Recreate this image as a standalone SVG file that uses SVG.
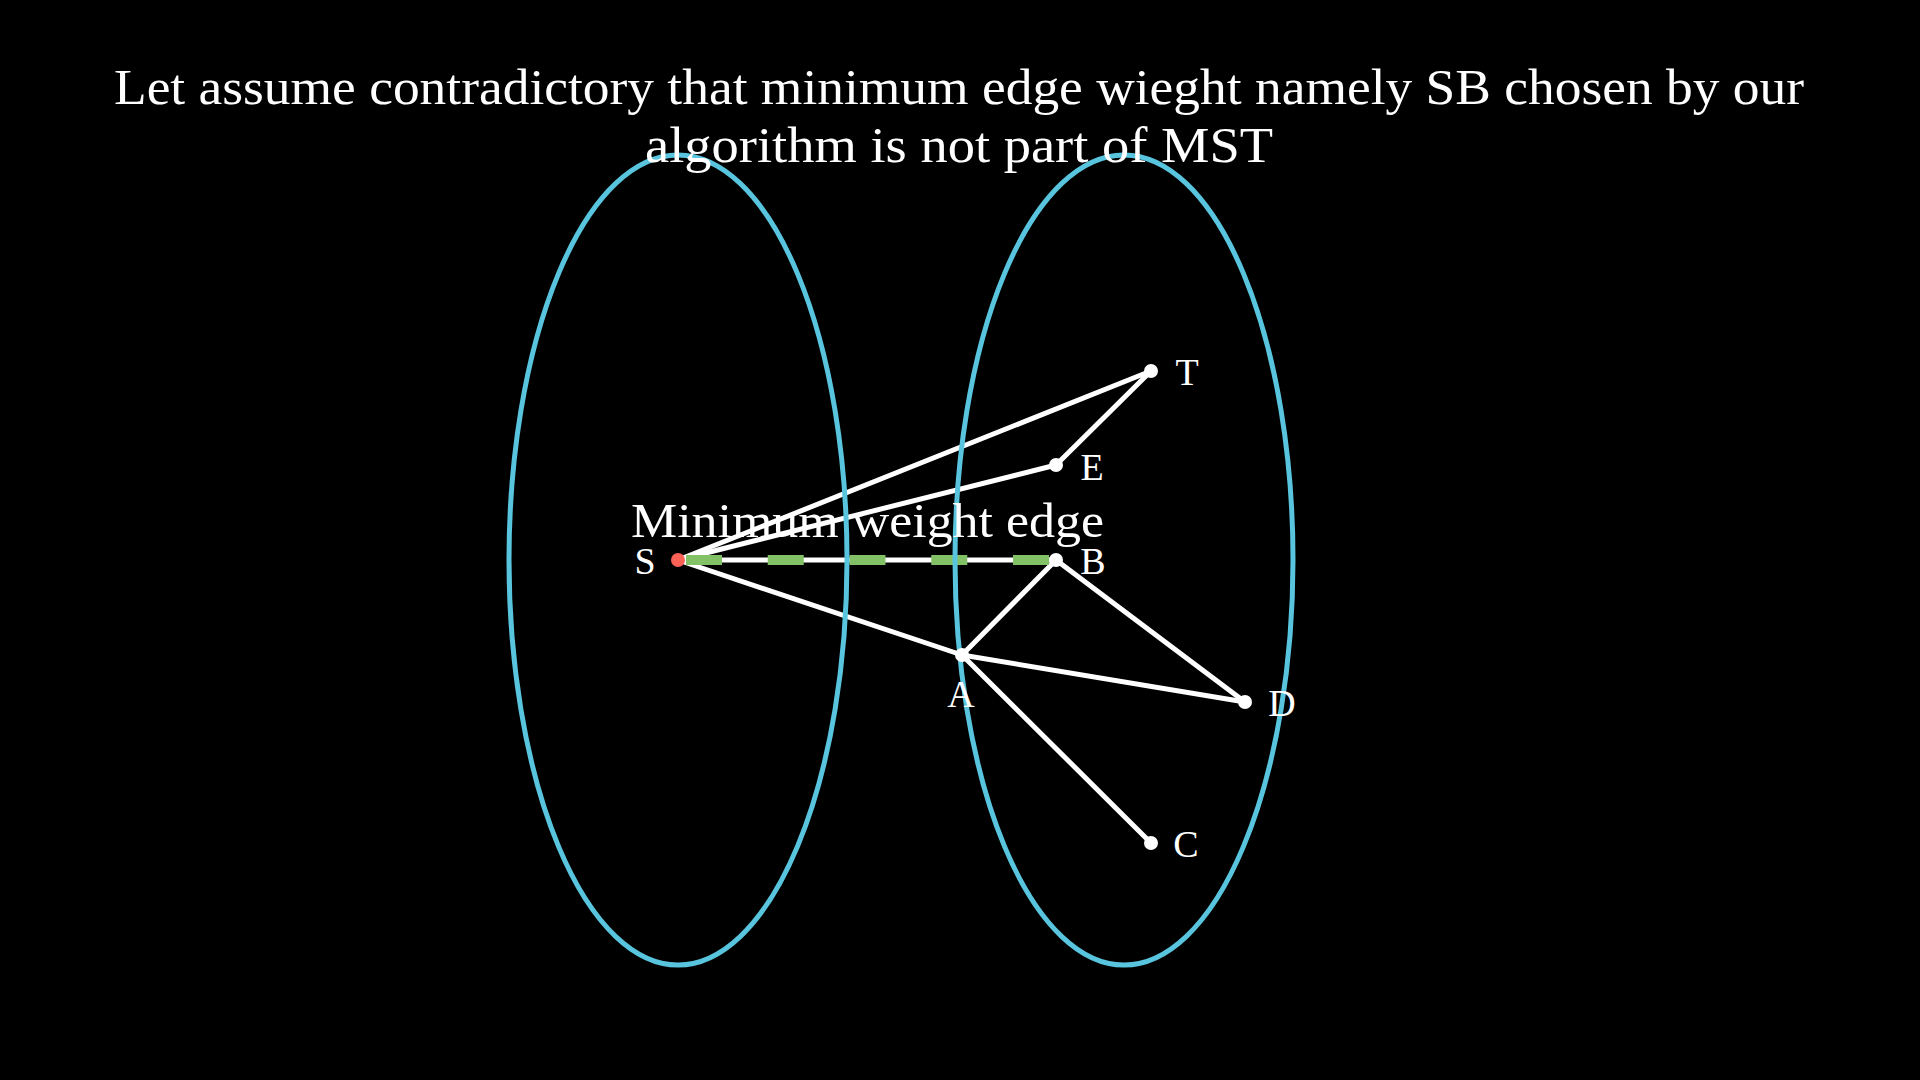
<svg xmlns="http://www.w3.org/2000/svg" width="1920" height="1080" viewBox="0 0 1920 1080">
<style>
.edge{stroke:#ffffff;stroke-width:5;stroke-linecap:round;fill:none}
.set{fill:none;stroke:#58C4DD;stroke-width:5}
.node{fill:#ffffff}
.lbl{font-family:"Liberation Serif","DejaVu Serif",serif;fill:#ffffff}
.nl{font-size:38px}
.title{font-size:50px}
</style>
<rect width="1920" height="1080" fill="#000000"/>
<g id="connectors">
<line class="edge" x1="678" y1="560" x2="1151" y2="371"/>
<line class="edge" x1="678" y1="560" x2="1056" y2="465"/>
<line class="edge" x1="678" y1="560" x2="1056" y2="560"/>
<line class="edge" x1="678" y1="560" x2="962" y2="655"/>
<line class="edge" x1="1151" y1="371" x2="1056" y2="465"/>
<line class="edge" x1="1056" y1="560" x2="962" y2="655"/>
<line class="edge" x1="1056" y1="560" x2="1245" y2="702"/>
<line class="edge" x1="962" y1="655" x2="1245" y2="702"/>
<line class="edge" x1="962" y1="655" x2="1151" y2="843"/>
<line id="min-edge" x1="686" y1="560" x2="1049" y2="560" stroke="#83C167" stroke-width="10" stroke-dasharray="36 45.75"/>
</g>
<g id="set-left"><ellipse class="set" cx="678" cy="560" rx="169" ry="405"/></g>
<g id="set-right"><ellipse class="set" cx="1124" cy="560" rx="169" ry="405"/></g>
<g id="node-S"><circle cx="678" cy="560" r="7" fill="#FC6255"/><text class="lbl nl" x="645" y="574" text-anchor="middle">S</text></g>
<g id="node-B"><circle class="node" cx="1056" cy="560" r="7"/><text class="lbl nl" x="1093" y="574" text-anchor="middle">B</text></g>
<g id="node-E"><circle class="node" cx="1056" cy="465" r="7"/><text class="lbl nl" x="1092" y="480" text-anchor="middle">E</text></g>
<g id="node-T"><circle class="node" cx="1151" cy="371" r="7"/><text class="lbl nl" x="1187" y="385" text-anchor="middle">T</text></g>
<g id="node-A"><circle class="node" cx="962" cy="655" r="7"/><text class="lbl nl" x="961" y="707" text-anchor="middle">A</text></g>
<g id="node-D"><circle class="node" cx="1245" cy="702" r="7"/><text class="lbl nl" x="1282" y="716" text-anchor="middle">D</text></g>
<g id="node-C"><circle class="node" cx="1151" cy="843" r="7"/><text class="lbl nl" x="1186" y="857" text-anchor="middle">C</text></g>
<g id="edge-label"><text class="lbl" x="631" y="537" font-size="48" textLength="473" lengthAdjust="spacingAndGlyphs">Minimum weight edge</text></g>
<g id="title">
<text class="lbl title" x="114" y="104" textLength="1690" lengthAdjust="spacingAndGlyphs">Let assume contradictory that minimum edge wieght namely SB chosen by our</text>
<text class="lbl title" x="645" y="162" textLength="628" lengthAdjust="spacingAndGlyphs">algorithm is not part of MST</text>
</g>
</svg>
